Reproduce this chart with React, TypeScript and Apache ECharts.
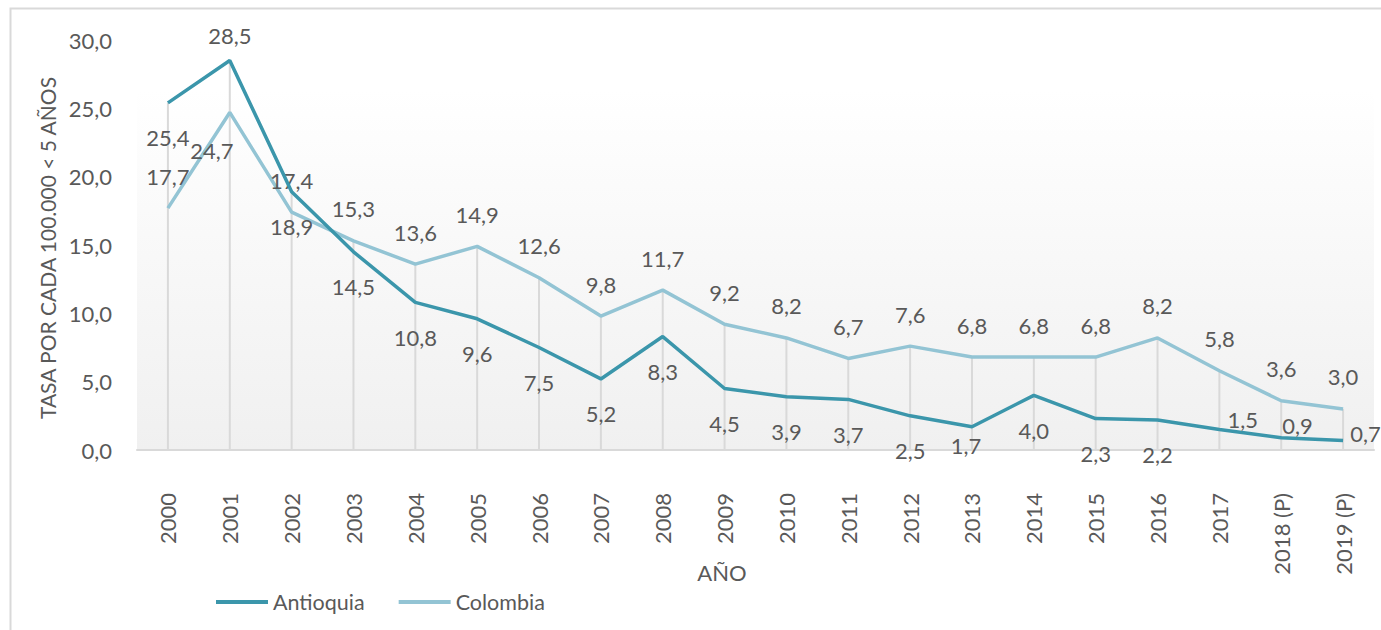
import React, { useEffect, useRef } from "react";
import * as echarts from "echarts";

const years = [
  "2000", "2001", "2002", "2003", "2004", "2005", "2006", "2007", "2008", "2009",
  "2010", "2011", "2012", "2013", "2014", "2015", "2016", "2017", "2018 (P)", "2019 (P)",
];
const antioquia = [25.4, 28.5, 18.9, 14.5, 10.8, 9.6, 7.5, 5.2, 8.3, 4.5, 3.9, 3.7, 2.5, 1.7, 4.0, 2.3, 2.2, 1.5, 0.9, 0.7];
const colombia = [17.7, 24.7, 17.4, 15.3, 13.6, 14.9, 12.6, 9.8, 11.7, 9.2, 8.2, 6.7, 7.6, 6.8, 6.8, 6.8, 8.2, 5.8, 3.6, 3.0];
const yMin = 0;
const yMax = 30;
const yStep = 5;

const FONT = "Lato";
const TEXT = "#595959";
const C_ANT = "#3b96ab";
const C_COL = "#93c4d4";

// label placement overrides (index -> label options)
const antLabelDefault = { position: "bottom", distance: 24 };
const antLabelOverrides: Record<number, any> = {
  1: { position: "top", distance: 14 },
  13: { position: "bottom", distance: 8, offset: [-6, 0] },
  17: { position: "right", distance: 8, offset: [0, -10] },
  18: { position: "right", distance: 1, offset: [0, -12] },
  19: { position: "right", distance: 7, offset: [0, -7] },
};
const colLabelDefault = { position: "top", distance: 21 };
const colLabelOverrides: Record<number, any> = {
  1: { position: "bottom", distance: 27, offset: [-18, 0] },
};

const fmt = (v: number) => v.toFixed(1).replace(".", ",");

export default function App() {
  const ref = useRef<HTMLDivElement>(null);
  useEffect(() => {
    if (!ref.current) return;
    const chart = echarts.init(ref.current, null, { renderer: "svg" });
    const labelBase = {
      show: true,
      fontFamily: FONT,
      fontSize: 22,
      lineHeight: 22,
      color: TEXT,
      formatter: (p: any) => fmt(p.value),
    };
    chart.setOption({
      animation: false,
      backgroundColor: "#ffffff",
      textStyle: { fontFamily: FONT },
      grid: {
        left: 137,
        right: 7,
        top: 40,
        bottom: 180,
        show: true,
        borderWidth: 0,
        backgroundColor: new echarts.graphic.LinearGradient(0, 0, 0, 1, [
          { offset: 0, color: "#ffffff" },
          { offset: 0.12, color: "#ffffff" },
          { offset: 1, color: "#f0f0f0" },
        ]),
      },
      legend: {
        left: 211,
        top: 586,
        icon: "rect",
        itemWidth: 52,
        itemHeight: 4,
        itemGap: 34,
        textStyle: { fontFamily: FONT, fontSize: 21.5, color: TEXT },
        data: ["Antioquia", "Colombia"],
      },
      xAxis: {
        type: "category",
        data: years,
        boundaryGap: true,
        axisLine: { show: true, lineStyle: { color: "#d9d9d9", width: 2 } },
        axisTick: { show: false },
        splitLine: { show: false },
        axisLabel: {
          rotate: 90,
          margin: 43,
          interval: 0,
          fontFamily: FONT,
          fontSize: 22,
          color: TEXT,
        },
      },
      yAxis: {
        type: "value",
        min: yMin,
        max: yMax,
        interval: yStep,
        axisLine: { show: false },
        axisTick: { show: false },
        splitLine: { show: false },
        axisLabel: {
          margin: 25,
          fontFamily: FONT,
          fontSize: 22,
          color: TEXT,
          formatter: (v: number) => fmt(v),
        },
      },
      graphic: [
        {
          type: "rect",
          left: 8,
          top: 6,
          shape: { width: 1400, height: 700 },
          style: { fill: "none", stroke: "#d9d9d9", lineWidth: 2 },
          silent: true,
          z: 100,
        },
        {
          type: "text",
          x: 47,
          y: 248,
          rotation: Math.PI / 2,
          style: {
            text: "TASA POR CADA 100.000 < 5 AÑOS",
            fontFamily: FONT,
            fontSize: 21,
            fill: TEXT,
            textAlign: "center",
            textVerticalAlign: "middle",
          },
        },
        {
          type: "text",
          x: 722,
          y: 572,
          style: {
            text: "AÑO",
            fontFamily: FONT,
            fontSize: 22,
            fill: TEXT,
            textAlign: "center",
            textVerticalAlign: "middle",
          },
        },
      ],
      series: [
        {
          type: "custom",
          name: "drop",
          silent: true,
          z: 1,
          data: years.map((_, i) => [i, Math.max(antioquia[i], colombia[i])]),
          encode: { x: 0, y: 1 },
          renderItem: (params: any, api: any) => {
            const top = api.coord([api.value(0), api.value(1)]);
            const bot = api.coord([api.value(0), 0]);
            return {
              type: "line",
              shape: { x1: top[0], y1: top[1], x2: bot[0], y2: bot[1] },
              style: { stroke: "#d9d9d9", lineWidth: 2 },
            };
          },
        },
        {
          type: "line",
          name: "Antioquia",
          z: 3,
          symbol: "circle",
          symbolSize: 0.1,
          itemStyle: { color: C_ANT },
          lineStyle: { color: C_ANT, width: 3.5 },
          data: antioquia.map((v, i) => ({
            value: v,
            label: { ...labelBase, ...antLabelDefault, ...(antLabelOverrides[i] || {}) },
          })),
          label: { ...labelBase, ...antLabelDefault },
        },
        {
          type: "line",
          name: "Colombia",
          z: 2,
          symbol: "circle",
          symbolSize: 0.1,
          itemStyle: { color: C_COL },
          lineStyle: { color: C_COL, width: 3.5 },
          data: colombia.map((v, i) => ({
            value: v,
            label: { ...labelBase, ...colLabelDefault, ...(colLabelOverrides[i] || {}) },
          })),
          label: { ...labelBase, ...colLabelDefault },
        },
      ],
    });
    return () => chart.dispose();
  }, []);
  return (
    <div
      ref={ref}
      style={{ position: "absolute", left: 0, top: 0, width: 1381, height: 630 }}
    />
  );
}
